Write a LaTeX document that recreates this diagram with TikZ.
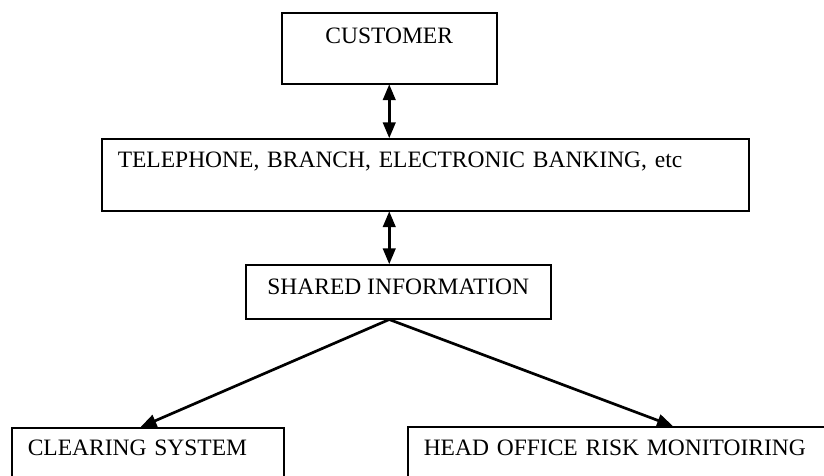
\documentclass[tikz,border=0pt]{standalone}
\usepackage{fontspec}
\setmainfont{Liberation Serif}
\usetikzlibrary{positioning,arrows,calc}
\tikzset{
  box/.style={draw=black, line width=1.5pt, rectangle, anchor=north west,
    inner xsep=16pt, inner ysep=0pt, font=\fontsize{23.5}{23.5}\selectfont},
  flow/.style={line width=2.7pt, draw=black, -triangle 45},
  twoway/.style={line width=2.7pt, draw=black, triangle 45-triangle 45}
}

\begin{document}
\begin{tikzpicture}[x=1pt, y=-1pt]
    \clip (0,0) rectangle (824,475);
    \node[box, minimum width=215pt, text height=31pt, text depth=40pt] (cust) at (281,12) {CUSTOMER};
    \node[box, text width=615pt, align=left, text height=29pt, text depth=43pt] (tel) at (101,138) {TELEPHONE, BRANCH, ELECTRONIC BANKING, etc};
    \node[box, minimum width=305pt, text height=30pt, text depth=24pt] (shared) at (245,264) {SHARED INFORMATION};
    \node[box, text width=240pt, align=left, text height=28pt, text depth=60pt] (clear) at (11,427) {CLEARING SYSTEM};
    \node[box, text width=498pt, align=left, text height=29pt, text depth=60pt] (head) at (407,426) {HEAD OFFICE RISK MONITOIRING};
    %
    \coordinate (apex) at (cust.south |- shared.south);
    \coordinate (clrtip) at ($(clear.north)+(-7,0)$);
    \draw[twoway] (cust.south) -- (cust.south |- tel.north);
    \draw[twoway] (cust.south |- tel.south) -- (cust.south |- shared.north);
    \draw[flow] (apex) -- (clrtip);
    \draw[flow] (apex) -- (head.north);
\end{tikzpicture}
\end{document}
